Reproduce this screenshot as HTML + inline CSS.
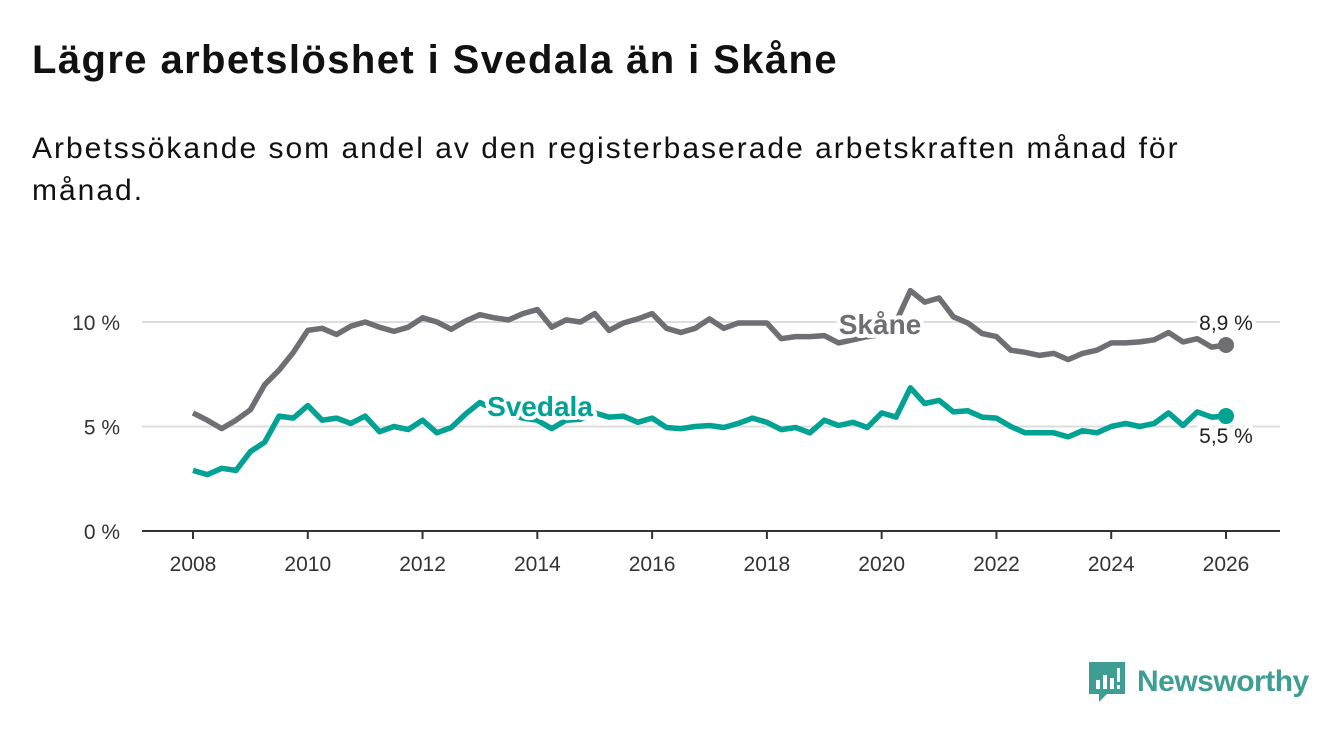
<!DOCTYPE html>
<html><head><meta charset="utf-8"><style>
body{margin:0;width:1340px;height:734px;background:#fff;font-family:"Liberation Sans",sans-serif;overflow:hidden;position:relative}
h1{position:absolute;left:32px;top:38px;margin:0;font-size:40px;letter-spacing:1.4px;font-weight:bold;color:#111}
p{position:absolute;left:32px;top:128px;margin:0;font-size:30px;letter-spacing:2px;line-height:42px;color:#111;width:1250px}
svg{position:absolute;left:0;top:0}
</style></head><body>
<h1>Lägre arbetslöshet i Svedala än i Skåne</h1>
<p>Arbetssökande som andel av den registerbaserade arbetskraften månad för<br>månad.</p>
<svg id="c" width="1340" height="734"></svg>
<script>
const years=[2008,2010,2012,2014,2016,2018,2020,2022,2024,2026];
const yTicks=[0,5,10];
const skane=[5.65,5.3,4.9,5.3,5.8,7.0,7.7,8.55,9.6,9.7,9.4,9.8,10.0,9.75,9.55,9.75,10.2,10.0,9.65,10.05,10.35,10.2,10.1,10.4,10.6,9.75,10.1,10.0,10.4,9.6,9.95,10.15,10.4,9.7,9.5,9.7,10.15,9.7,9.95,9.95,9.95,9.2,9.3,9.3,9.35,9.0,9.15,9.3,9.4,10.0,11.5,10.95,11.15,10.25,9.95,9.45,9.3,8.65,8.55,8.4,8.5,8.2,8.5,8.65,9.0,9.0,9.05,9.15,9.5,9.05,9.2,8.8,8.9];
const svedala=[2.9,2.7,3.0,2.9,3.8,4.25,5.5,5.4,6.0,5.3,5.4,5.15,5.5,4.75,5.0,4.85,5.3,4.7,4.95,5.6,6.15,5.8,5.6,5.4,5.3,4.9,5.3,5.35,5.65,5.45,5.5,5.2,5.4,4.95,4.9,5.0,5.05,4.95,5.15,5.4,5.2,4.85,4.95,4.7,5.3,5.05,5.2,4.95,5.65,5.45,6.85,6.1,6.25,5.7,5.75,5.45,5.4,5.0,4.7,4.7,4.7,4.5,4.8,4.7,5.0,5.15,5.0,5.15,5.65,5.05,5.7,5.45,5.5];
const startYear=2008, step=0.25;
const X=t=>193+(t-2008)*(1226-193)/18;
const Y=v=>531-v*20.9;
const svg=document.getElementById('c');const NS='http://www.w3.org/2000/svg';
function mk(tag,attrs,parent){const e=document.createElementNS(NS,tag);for(const k in attrs)e.setAttribute(k,attrs[k]);(parent||svg).appendChild(e);return e;}
yTicks.forEach(v=>{
 if(v>0){const g=mk('line',{x1:142,x2:1280,y1:Y(v),y2:Y(v),stroke:'#ddd','stroke-width':2});
 
 }
 const t=mk('text',{x:120,y:Y(v)+8,'text-anchor':'end','font-size':21,fill:'#333'});t.textContent=v+' %';
 
 
});
const ax=mk('line',{x1:142,x2:1280,y1:531,y2:531,stroke:'#333','stroke-width':2});


years.forEach(yr=>{
 const tk=mk('line',{x1:X(yr),x2:X(yr),y1:531,y2:539,stroke:'#333','stroke-width':2});
 
 
 const t=mk('text',{x:X(yr),y:571,'text-anchor':'middle','font-size':21,fill:'#333'});t.textContent=yr;
 
 
});
function line(data,color,name){
 const d=data.map((v,i)=>(i?'L':'M')+X(startYear+i*step).toFixed(1)+','+Y(v).toFixed(1)).join('');
 const p=mk('path',{d:d,fill:'none',stroke:color,'stroke-width':5.5,'stroke-linejoin':'round'});
 
 
 const last=data[data.length-1];
 const c=mk('circle',{cx:X(startYear+(data.length-1)*step),cy:Y(last),r:8,fill:color});
 
 
}
line(skane,'#6f6e73','skane');
line(svedala,'#00a293','svedala');
function lbl(x,y,txt,col,name,bold,size,halo){
 const t=mk('text',{x:x,y:y,'text-anchor':'middle','font-size':size,fill:col,'font-weight':bold?'bold':'normal',stroke:halo?'#fff':'none','stroke-width':halo?8:0,'paint-order':'stroke','stroke-linejoin':'round'});
 t.textContent=txt;
 
 
}
lbl(880,334,'Skåne','#6f6e73','skane-label',true,28,true);
lbl(540,416,'Svedala','#00a293','svedala-label',true,28,true);
lbl(1226,330,'8,9 %','#222','skane-end-value',false,21,true);
lbl(1226,443,'5,5 %','#222','svedala-end-value',false,21,true);
</script>
<div style="position:absolute;left:1089px;top:662px;display:flex;align-items:center">
<svg width="36" height="40" style="position:static" viewBox="0 0 36 40"><path d="M0 0H36V32H18L10 40V32H0Z" fill="#3f9e93"/><rect x="7" y="18" width="4" height="9" fill="#fff"/><rect x="14" y="13" width="4" height="14" fill="#fff"/><rect x="21" y="16" width="4" height="11" fill="#fff"/><rect x="28" y="6" width="3" height="14" fill="#fff"/><rect x="28" y="23" width="3" height="4" fill="#fff"/></svg>
<span style="margin-left:12px;font-size:30px;color:#3f9e93;font-weight:bold;letter-spacing:-0.5px">Newsworthy</span></div>
</body></html>
